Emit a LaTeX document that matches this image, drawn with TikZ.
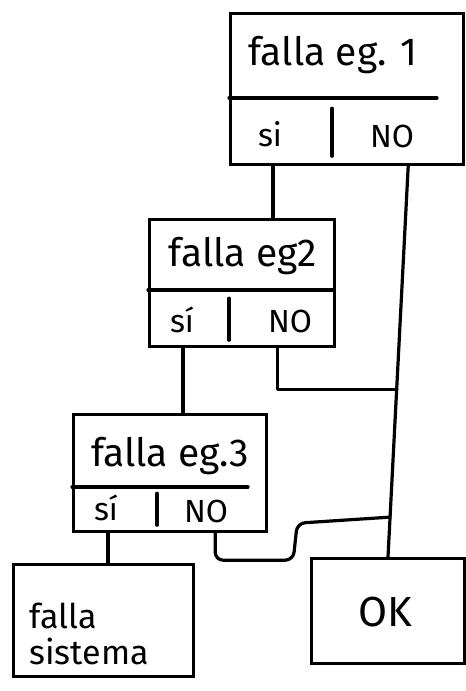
\documentclass[tikz,border=0pt]{standalone}
\usepackage{fontspec}
\setmainfont{Fira Sans}
\usetikzlibrary{calc}
\begin{document}
\begin{tikzpicture}[x=1pt,y=-1pt,
  box/.style={draw, line width=3.2pt, rectangle, inner sep=0pt, anchor=north west},
  wire/.style={line width=3.2pt, line join=round, line cap=round},
  title/.style={font=\fontsize{39}{42}\selectfont},
  ans/.style={font=\fontsize{32}{34}\selectfont},
  leaf/.style={font=\fontsize{34}{36}\selectfont}]
\useasboundingbox (0,0) rectangle (466,691);

% decision 1
\node[box, minimum width=233pt, minimum height=151pt] (box1) at (229,12) {};
\draw[wire] ([yshift=-86pt]box1.north west) -- ++(208,0);
\draw[wire] ([xshift=103pt,yshift=10pt]box1.south west) -- ++(0,-48);
\node[title] (t1) at (333,55) {falla eg. 1};
\node[ans] (si1) at (270,134) {si};
\node[ans] (no1) at (392,136) {NO};

% decision 2
\node[box, minimum width=185pt, minimum height=127pt] (box2) at (148,218) {};
\draw[wire] ([yshift=-72pt]box2.north west) -- ++(185,0);
\draw[wire] ([xshift=81pt,yshift=8pt]box2.south west) -- ++(0,-42);
\node[title] (t2) at (243,256) {falla eg2};
\node[ans] (si2) at (182,320) {sí};
\node[ans] (no2) at (290,321) {NO};

% decision 3
\node[box, minimum width=193pt, minimum height=117pt] (box3) at (72,413) {};
\draw[wire] ([yshift=-74pt]box3.north west) -- ++(176,0);
\draw[wire] ([xshift=85pt,yshift=8pt]box3.south west) -- ++(0,-32);
\node[title] (t3) at (170,456) {falla eg.3};
\node[ans] (si3) at (106,508) {sí};
\node[ans] (no3) at (206,511) {NO};

% outcomes
\node[box, minimum width=180pt, minimum height=112pt] (fail) at (12,563) {};
\node[leaf, align=left, anchor=west] (ft) at (26,634) {falla\\sistema};
\node[box, minimum width=153pt, minimum height=105pt] (ok) at (310,557) {};
\node[font=\fontsize{42}{44}\selectfont] (okt) at (385,612) {OK};

% "NO" trunk down to OK
\coordinate (ta) at ([xshift=-57pt]box1.south east);
\coordinate (tb) at ([xshift=78pt]ok.north west);
\draw[wire] (ta) -- (tb);
\coordinate (j2) at ($(ta)!0.571!(tb)$);
\coordinate (j3) at ($(ta)!0.898!(tb)$);

% "si" branches
\draw[wire] ([xshift=44pt]box1.south west) -- ([xshift=125pt]box2.north west);
\draw[wire] ([xshift=35pt]box2.south west) -- ([xshift=111pt]box3.north west);
\draw[wire] ([xshift=36pt]box3.south west) -- ([xshift=96pt]fail.north west);

% "NO" branches joining the trunk
\draw[wire] ([xshift=-59pt]box2.south east) |- (j2);
\draw[wire, rounded corners=8pt] ([xshift=-53pt]box3.south east) -- ++(0,27) -- ++(78,0)
  -- ++(4,-37) -- (j3);
\end{tikzpicture}
\end{document}
